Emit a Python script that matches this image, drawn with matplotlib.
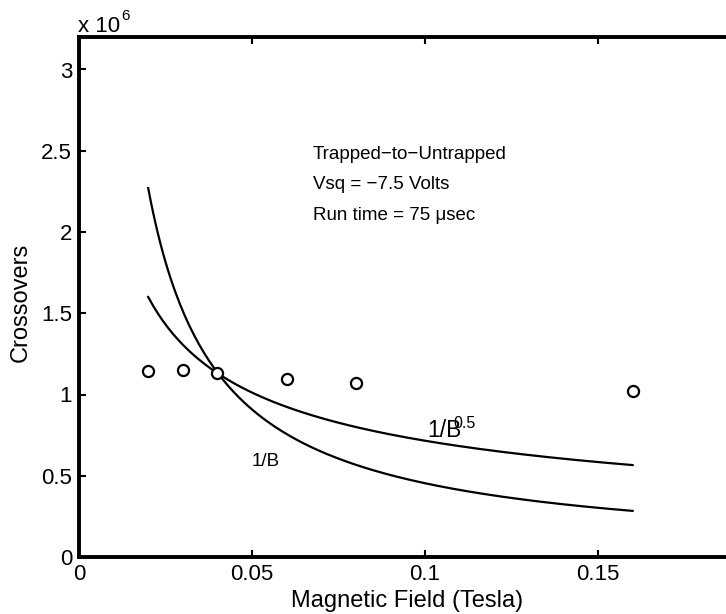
import matplotlib
matplotlib.use("Agg")
import matplotlib.pyplot as plt
from matplotlib.ticker import FuncFormatter
import numpy as np

plt.rcParams['font.family'] = ['Liberation Sans', 'DejaVu Sans']

# measured points
field = [0.02, 0.03, 0.04, 0.06, 0.08, 0.16]
crossovers = [1.146e6, 1.15e6, 1.13e6, 1.097e6, 1.07e6, 1.023e6]

# model curves, scaled to value at B = 0.02 T
b_start = 0.02
b_end = 0.16
inv_b_at_start = 2.27e6
inv_sqrt_b_at_start = 1.6e6

B = np.linspace(b_start, b_end, 200)
inv_b = inv_b_at_start * b_start / B
inv_sqrt_b = inv_sqrt_b_at_start * np.sqrt(b_start / B)

fig = plt.figure(figsize=(7.26, 6.14), dpi=100)
# right edge of the axes lies past the picture, as in the original crop
ax = fig.add_axes([79/726, 57/614, 692/726, 520/614])

ax.plot(B, inv_b, color='black', lw=1.6)
ax.plot(B, inv_sqrt_b, color='black', lw=1.6)
ax.plot(field, crossovers, 'o', mfc='white', mec='black', mew=1.6, ms=8, ls='none')

ax.set_xlim(0, 0.2)
ax.set_ylim(0, 3.2e6)
ax.set_xticks([0, 0.05, 0.1, 0.15])
ax.set_xticklabels(['0', '0.05', '0.1', '0.15'])
ax.set_yticks([0, 0.5e6, 1e6, 1.5e6, 2e6, 2.5e6, 3e6])
ax.yaxis.set_major_formatter(FuncFormatter(lambda v, p: '%g' % (v / 1e6)))
ax.tick_params(direction='in', length=5, width=1.5, labelsize=16, pad=5,
               top=True, right=True)

for s in ax.spines.values():
    s.set_linewidth(2.8)

ax.set_xlabel('Magnetic Field (Tesla)', fontsize=17)
ax.xaxis.set_label_coords(0.474, -0.063)
ax.set_ylabel('Crossovers', fontsize=17)
ax.yaxis.set_label_coords(-0.068, 0.49)

fig.text(78/726, 1 - 32/614, 'x 10', fontsize=16, ha='left', va='baseline')
fig.text(121/726, 1 - 20/614, '6', fontsize=11, ha='left', va='baseline')

ax.text(0.0676, 2.477e6, 'Trapped\u2212to\u2212Untrapped', fontsize=13.5, va='center')
ax.text(0.0676, 2.29e6, 'Vsq = \u22127.5 Volts', fontsize=13.5, va='center')
ax.text(0.0676, 2.10e6, 'Run time = 75 \u03bcsec', fontsize=13.5, va='center')

ax.text(0.054, 0.59e6, '1/B', fontsize=13.5, ha='center', va='center')
ax.text(0.1006, 0.739e6, '1/B', fontsize=16.5, ha='left', va='baseline')
ax.text(0.1081, 0.795e6, '0.5', fontsize=11.5, ha='left', va='baseline')

fig.savefig('out.png', dpi=100)
